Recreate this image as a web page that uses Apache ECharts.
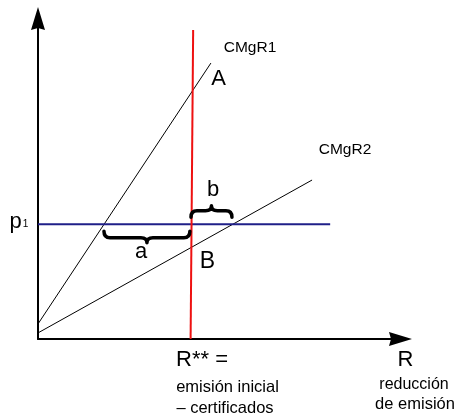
<!DOCTYPE html>
<html>
<head>
<meta charset="utf-8">
<script src="https://cdn.jsdelivr.net/npm/echarts@6/dist/echarts.min.js"></script>
<style>
html,body{margin:0;padding:0;background:#fff;}
#chart{width:464px;height:418px;}
</style>
</head>
<body>
<div id="chart"></div>
<script>
// ---- data (abstract units: x = reduction R, y = price/marginal cost) ----
const xRange = [0, 100];
const yRange = [0, 100];
const cmgr1 = [[0, 4.7], [47.7, 86.1]];      // CMgR1 marginal abatement cost
const cmgr2 = [[0, 1.9], [75.6, 49.6]];      // CMgR2 marginal abatement cost
const rStar = [[42.1, 0], [42.8, 96.4]];     // R** = emisión inicial - certificados
const p1Level = 35.8;
const p1Span = [0, 80.6];
const braceA = [18.2, 41.9];                 // brace "a" extent along p1
const braceB = [42.2, 53.5];                 // brace "b" extent along p1

const FONT = '"Liberation Sans", Arial, Helvetica, sans-serif';
const chart = echarts.init(document.getElementById('chart'), null, {renderer: 'canvas'});

function bracePath(xa, xb, y0, s) {
  const e = 7, f = 13.5, g = 18.5, r = 6;
  const xm = (xa + xb) / 2;
  const Y = v => y0 + s * v;
  return 'M' + xa + ',' + Y(e) +
    ' Q' + xa + ',' + Y(f) + ' ' + (xa + r) + ',' + Y(f) +
    ' L' + (xm - r) + ',' + Y(f) +
    ' Q' + xm + ',' + Y(f) + ' ' + xm + ',' + Y(g) +
    ' M' + xm + ',' + Y(g) +
    ' Q' + xm + ',' + Y(f) + ' ' + (xm + r) + ',' + Y(f) +
    ' L' + (xb - r) + ',' + Y(f) +
    ' Q' + xb + ',' + Y(f) + ' ' + xb + ',' + Y(e);
}

const braceDirs = [1, -1]; // a below the line, b above it

const axisArrow = 'path://M7,0 L14,23 L7,21 L0,23 Z';

function txt(text, x, y, size, extra) {
  return Object.assign({
    type: 'text', x: x, y: y, silent: true,
    style: {text: text, font: size + 'px ' + FONT, fill: '#000', align: 'center', verticalAlign: 'middle'}
  }, extra || {});
}

const option = {
  animation: false,
  backgroundColor: '#fff',
  grid: {left: 38, top: 18.5, right: 63.5, bottom: 79, containLabel: false},
  xAxis: {
    type: 'value', min: xRange[0], max: xRange[1],
    axisLine: {show: true, onZero: false, symbol: ['none', axisArrow], symbolSize: [15, 23],
      lineStyle: {color: '#000', width: 2}},
    axisTick: {show: false}, axisLabel: {show: false}, splitLine: {show: false}
  },
  yAxis: {
    type: 'value', min: yRange[0], max: yRange[1],
    axisLine: {show: true, onZero: false, symbol: ['none', axisArrow], symbolSize: [15, 23],
      lineStyle: {color: '#000', width: 2}},
    axisTick: {show: false}, axisLabel: {show: false}, splitLine: {show: false}
  },
  series: [
    {type: 'line', data: cmgr1, symbol: 'none', silent: true, lineStyle: {color: '#000', width: 1}},
    {type: 'line', data: cmgr2, symbol: 'none', silent: true, lineStyle: {color: '#000', width: 1}},
    {type: 'line', data: p1Span.map(x => [x, p1Level]), symbol: 'none', silent: true,
      lineStyle: {color: '#1f1f88', width: 2}},
    {type: 'line', data: rStar, symbol: 'none', silent: true, z: 3,
      lineStyle: {color: '#ee1111', width: 2}},
    {
      type: 'custom', silent: true, z: 4,
      data: [[braceA[0], braceA[1], p1Level], [braceB[0], braceB[1], p1Level]],
      renderItem: function (params, api) {
        const a = api.coord([api.value(0), api.value(2)]);
        const b = api.coord([api.value(1), api.value(2)]);
        const s = braceDirs[params.dataIndex];
        return {
          type: 'path',
          shape: {pathData: bracePath(a[0], b[0], a[1], s)},
          style: {fill: null, stroke: '#000', lineWidth: 3.5, lineCap: 'round', lineJoin: 'round'}
        };
      }
    }
  ],
  graphic: [
    txt('CMgR1', 250, 48, 15.5),
    txt('A', 218.5, 79.3, 22),
    txt('CMgR2', 345, 149.5, 15.5),
    txt('b', 213, 190, 22),
    txt('a', 141, 252, 22),
    txt('B', 207.5, 262, 23),
    txt('p', 15.5, 222.3, 22),
    txt('1', 25.5, 224.5, 10),
    txt('R** =', 202, 360.3, 22),
    txt('emisión inicial', 227.5, 387.5, 16.5),
    txt('– certificados', 225, 408, 16.5),
    txt('R', 405.5, 360.3, 22),
    txt('reducción', 414, 385, 16),
    txt('de emisión', 415, 404, 16.5)
  ]
};
chart.setOption(option);
</script>
</body>
</html>
